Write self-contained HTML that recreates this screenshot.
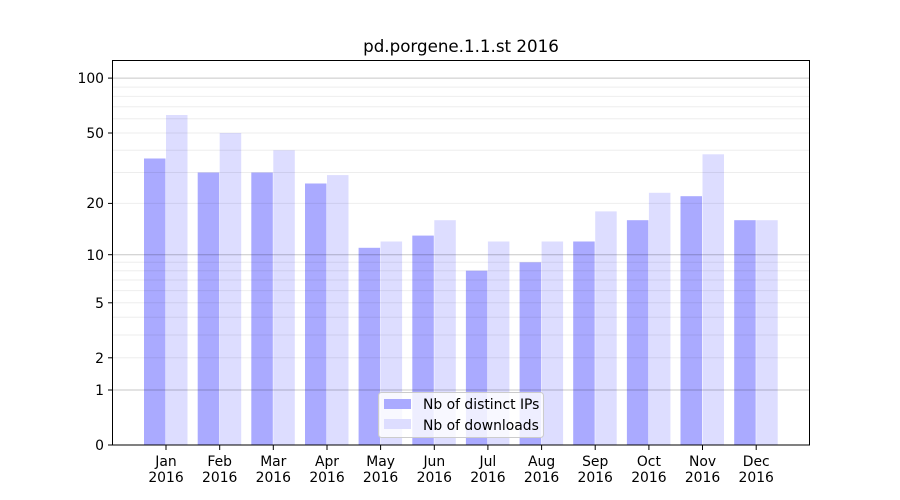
<!DOCTYPE html>
<html><head><meta charset="utf-8"><style>body{margin:0;background:#fff}svg{display:block}text{font-family:"DejaVu Sans","Liberation Sans",sans-serif;font-size:13.9px;fill:#000}</style></head>
<body>
<svg width="900" height="500" viewBox="0 0 900 500">
<rect width="900" height="500" fill="#fff"/>
<g>
<rect x="144" y="158.5" width="21.5" height="286.5" fill="#aaaaff"/><rect x="166" y="115" width="21.5" height="330" fill="#ddddff"/>
<rect x="197.7" y="172.5" width="21.5" height="272.5" fill="#aaaaff"/><rect x="219.7" y="133" width="21.5" height="312" fill="#ddddff"/>
<rect x="251.3" y="172.5" width="21.5" height="272.5" fill="#aaaaff"/><rect x="273.3" y="150.3" width="21.5" height="294.7" fill="#ddddff"/>
<rect x="305" y="183.5" width="21.5" height="261.5" fill="#aaaaff"/><rect x="327" y="175.1" width="21.5" height="269.9" fill="#ddddff"/>
<rect x="358.6" y="247.8" width="21.5" height="197.2" fill="#aaaaff"/><rect x="380.6" y="241.5" width="21.5" height="203.5" fill="#ddddff"/>
<rect x="412.3" y="235.6" width="21.5" height="209.4" fill="#aaaaff"/><rect x="434.3" y="220.2" width="21.5" height="224.8" fill="#ddddff"/>
<rect x="465.9" y="270.7" width="21.5" height="174.3" fill="#aaaaff"/><rect x="487.9" y="241.5" width="21.5" height="203.5" fill="#ddddff"/>
<rect x="519.6" y="262.3" width="21.5" height="182.7" fill="#aaaaff"/><rect x="541.6" y="241.5" width="21.5" height="203.5" fill="#ddddff"/>
<rect x="573.2" y="241.5" width="21.5" height="203.5" fill="#aaaaff"/><rect x="595.2" y="211.4" width="21.5" height="233.6" fill="#ddddff"/>
<rect x="626.9" y="220.2" width="21.5" height="224.8" fill="#aaaaff"/><rect x="648.9" y="192.8" width="21.5" height="252.2" fill="#ddddff"/>
<rect x="680.5" y="196.2" width="21.5" height="248.8" fill="#aaaaff"/><rect x="702.5" y="154.3" width="21.5" height="290.7" fill="#ddddff"/>
<rect x="734.2" y="220.2" width="21.5" height="224.8" fill="#aaaaff"/><rect x="756.2" y="220.2" width="21.5" height="224.8" fill="#ddddff"/>
</g>
<g stroke="#000" stroke-opacity="0.07" stroke-width="1">
<line x1="113" x2="810" y1="357.8" y2="357.8"/><line x1="113" x2="810" y1="335" y2="335"/><line x1="113" x2="810" y1="317.3" y2="317.3"/><line x1="113" x2="810" y1="302.8" y2="302.8"/><line x1="113" x2="810" y1="290.6" y2="290.6"/><line x1="113" x2="810" y1="280" y2="280"/><line x1="113" x2="810" y1="270.7" y2="270.7"/><line x1="113" x2="810" y1="262.3" y2="262.3"/>
<line x1="113" x2="810" y1="203.4" y2="203.4"/><line x1="113" x2="810" y1="172.5" y2="172.5"/><line x1="113" x2="810" y1="150.3" y2="150.3"/><line x1="113" x2="810" y1="133" y2="133"/><line x1="113" x2="810" y1="118.8" y2="118.8"/><line x1="113" x2="810" y1="106.8" y2="106.8"/><line x1="113" x2="810" y1="96.4" y2="96.4"/><line x1="113" x2="810" y1="87.1" y2="87.1"/>
</g>
<g stroke="#000" stroke-opacity="0.22" stroke-width="1">
<line x1="113" x2="810" y1="390" y2="390"/><line x1="113" x2="810" y1="254.7" y2="254.7"/><line x1="113" x2="810" y1="78.1" y2="78.1"/>
</g>
<rect x="112.5" y="60.5" width="697" height="384.5" fill="none" stroke="#000" stroke-width="1"/>
<g stroke="#000">
<line x1="108" x2="112.5" y1="445" y2="445"/><line x1="108" x2="112.5" y1="390" y2="390"/><line x1="108" x2="112.5" y1="357.8" y2="357.8"/><line x1="108" x2="112.5" y1="302.8" y2="302.8"/><line x1="108" x2="112.5" y1="254.7" y2="254.7"/><line x1="108" x2="112.5" y1="203.4" y2="203.4"/><line x1="108" x2="112.5" y1="133" y2="133"/><line x1="108" x2="112.5" y1="78.1" y2="78.1"/>
<line x1="166" x2="166" y1="445" y2="450"/><line x1="219.7" x2="219.7" y1="445" y2="450"/><line x1="273.3" x2="273.3" y1="445" y2="450"/><line x1="327" x2="327" y1="445" y2="450"/><line x1="380.6" x2="380.6" y1="445" y2="450"/><line x1="434.3" x2="434.3" y1="445" y2="450"/><line x1="487.9" x2="487.9" y1="445" y2="450"/><line x1="541.6" x2="541.6" y1="445" y2="450"/><line x1="595.2" x2="595.2" y1="445" y2="450"/><line x1="648.9" x2="648.9" y1="445" y2="450"/><line x1="702.5" x2="702.5" y1="445" y2="450"/><line x1="756.2" x2="756.2" y1="445" y2="450"/>
</g>
<g text-anchor="end">
<text x="104" y="450">0</text><text x="104" y="395">1</text><text x="104" y="363">2</text><text x="104" y="308">5</text><text x="104" y="260">10</text><text x="104" y="208">20</text><text x="104" y="138">50</text><text x="104" y="83">100</text>
</g>
<g text-anchor="middle">
<text x="166" y="466">Jan</text><text x="166" y="482">2016</text>
<text x="219.7" y="466">Feb</text><text x="219.7" y="482">2016</text>
<text x="273.3" y="466">Mar</text><text x="273.3" y="482">2016</text>
<text x="327" y="466">Apr</text><text x="327" y="482">2016</text>
<text x="380.6" y="466">May</text><text x="380.6" y="482">2016</text>
<text x="434.3" y="466">Jun</text><text x="434.3" y="482">2016</text>
<text x="487.9" y="466">Jul</text><text x="487.9" y="482">2016</text>
<text x="541.6" y="466">Aug</text><text x="541.6" y="482">2016</text>
<text x="595.2" y="466">Sep</text><text x="595.2" y="482">2016</text>
<text x="648.9" y="466">Oct</text><text x="648.9" y="482">2016</text>
<text x="702.5" y="466">Nov</text><text x="702.5" y="482">2016</text>
<text x="756.2" y="466">Dec</text><text x="756.2" y="482">2016</text>
<text x="461" y="52" style="font-size:16.7px">pd.porgene.1.1.st 2016</text>
</g>
<rect x="378.5" y="392.5" width="165" height="45" rx="3" fill="#fff" fill-opacity="0.8" stroke="#ccc"/>
<rect x="384" y="399" width="27" height="10" fill="#aaaaff"/>
<rect x="384" y="419" width="27" height="10" fill="#ddddff"/>
<text x="423" y="409">Nb of distinct IPs</text>
<text x="423" y="430">Nb of downloads</text>
</svg>
</body></html>
